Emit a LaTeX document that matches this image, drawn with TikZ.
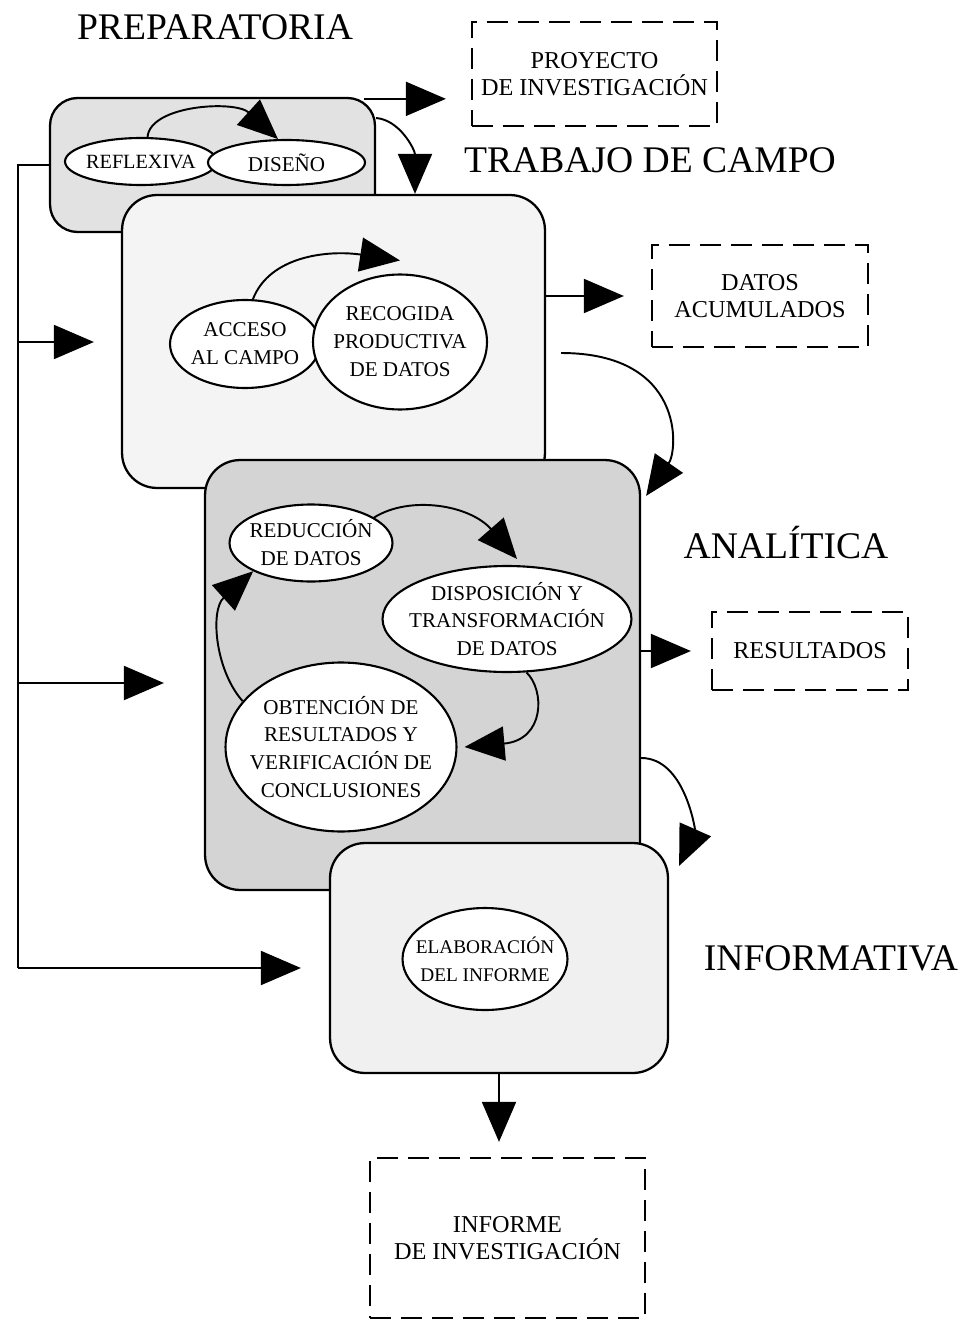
\documentclass[tikz,border=0pt]{standalone}
\usepackage{fontspec}
\setmainfont{Liberation Serif}
\usetikzlibrary{arrows.meta, shapes.geometric}
\definecolor{prepshade}{RGB}{226,226,226}
\definecolor{fieldshade}{RGB}{244,244,244}
\definecolor{analshade}{RGB}{212,212,212}
\definecolor{infoshade}{RGB}{240,240,240}

\begin{document}
\begin{tikzpicture}[
  x=0.02cm, y=-0.02cm,
  flowarr/.style={-{Triangle[length=0.8cm, width=0.68cm]}, line width=1.1pt},
  busline/.style={line width=1.5pt},
  phasebox/.style={draw, line width=1.3pt, rounded corners=0.7cm, inner sep=0pt},
  outbox/.style={draw, line width=1.3pt, dash pattern=on 0.42cm off 0.2cm, inner sep=0pt,
    align=center, font=\fontsize{13.8}{15.4}\selectfont},
  ell/.style={ellipse, draw, fill=white, line width=1.2pt, inner sep=0pt},
  elltxt/.style={align=center, inner sep=0pt, font=\fontsize{12}{15.9}\selectfont},
  phaselbl/.style={anchor=base, inner sep=0pt, font=\fontsize{21.4}{25}\selectfont}
]
\useasboundingbox (0,0) rectangle (966,1321);

\node[phaselbl] (lbl-prep)  at (215,40)  {PREPARATORIA};
\node[phaselbl] (lbl-campo) at (650,173) {TRABAJO DE CAMPO};
\node[phaselbl] (lbl-anal)  at (786,558) {ANALÍTICA};
\node[phaselbl] (lbl-info)  at (831,970) {INFORMATIVA};

\node[outbox, minimum width=4.9cm,  minimum height=2.08cm] (proy)  at (594.5,74)  {PROYECTO\\DE INVESTIGACIÓN};
\node[outbox, minimum width=4.32cm, minimum height=2.04cm] (datos) at (760,296)   {DATOS\\ACUMULADOS};
\node[outbox, minimum width=3.92cm, minimum height=1.56cm] (res)   at (810,651)   {RESULTADOS};
\node[outbox, minimum width=5.5cm,  minimum height=3.2cm]  (inf)   at (507.5,1238) {INFORME\\DE INVESTIGACIÓN};

% preparatoria
\node[phasebox, fill=prepshade, rounded corners=0.55cm, minimum width=6.5cm, minimum height=2.68cm] (prep) at (212.5,165) {};
\node[ell, minimum width=3.04cm, minimum height=0.94cm] (refl) at (141,161.5) {};
\node[elltxt, font=\fontsize{11.5}{15.9}\selectfont] (refl-t) at (refl) {REFLEXIVA};
\node[ell, minimum width=3.14cm, minimum height=0.9cm] (dis) at (286.5,162.5) {};
\node[elltxt] (dis-t) at (dis) {DISEÑO};
\draw[flowarr] (refl.75) .. controls (150,105) and (235,100) .. (dis.110);

% trabajo de campo
\node[phasebox, fill=fieldshade, minimum width=8.46cm, minimum height=5.86cm] (campo) at (333.5,341.5) {};
\node[ell, minimum width=3.0cm, minimum height=1.76cm] (acc) at (245,344) {};
\node[elltxt] (acc-t) at (acc) {ACCESO\\AL CAMPO};
\node[ell, minimum width=3.48cm, minimum height=2.7cm] (rec) at (400,342) {};
\node[elltxt] (rec-t) at (rec) {RECOGIDA\\PRODUCTIVA\\DE DATOS};
\draw[flowarr] (acc.80) .. controls (270,255) and (330,250) .. ([yshift=0.26cm]rec.north);

% analitica
\node[phasebox, fill=analshade, minimum width=8.7cm, minimum height=8.6cm] (anal) at (422.5,675) {};
\node[ell, minimum width=3.26cm, minimum height=1.54cm] (red) at (311,543) {};
\node[elltxt] (red-t) at (red) {REDUCCIÓN\\DE DATOS};
\node[ell, minimum width=4.98cm, minimum height=2.12cm] (disp) at (507,619) {};
\node[elltxt] (disp-t) at (disp) {DISPOSICIÓN Y\\TRANSFORMACIÓN\\DE DATOS};
\node[ell, minimum width=4.62cm, minimum height=3.38cm] (obt) at (341,747) {};
\node[elltxt] (obt-t) at (obt) {OBTENCIÓN DE\\RESULTADOS Y\\VERIFICACIÓN DE\\CONCLUSIONES};
\draw[flowarr] (red.22) .. controls (410,495) and (470,505) .. ([xshift=0.2cm,yshift=0.12cm]disp.north);
\draw[flowarr] (disp.-70) .. controls (545,690) and (545,740) .. ([xshift=0.14cm]obt.east);
\draw[flowarr] (obt.155) .. controls (215,670) and (210,610) .. (red.206);

% informativa
\node[phasebox, fill=infoshade, minimum width=6.76cm, minimum height=4.6cm] (info) at (499,958) {};
\node[ell, minimum width=3.3cm, minimum height=2.04cm] (elab) at (485,959) {};
\node[elltxt, font=\fontsize{11}{15.9}\selectfont] (elab-t) at (elab) {ELABORACIÓN\\DEL INFORME};

% between phases
\draw[flowarr] ([yshift=0.94cm]prep.east) .. controls (400,120) and (415,150) .. ([xshift=1.63cm]campo.north);
\draw[flowarr] ([xshift=0.3cm,yshift=-0.23cm]campo.east) .. controls (685,353) and (678,450) .. ([xshift=0.1cm,yshift=-0.74cm]anal.north east);
\draw[flowarr] ([yshift=-1.66cm]anal.east) .. controls (685,758) and (695,830) .. ([xshift=0.2cm,yshift=-0.48cm]info.north east);

% outputs
\coordinate (prep-out) at ([xshift=-0.24cm,yshift=-0.04cm]prep.north east);
\draw[flowarr, shorten >=0.5cm]  (prep-out) -- (prep-out -| proy.west);
\draw[flowarr, shorten >=0.54cm] (campo.east |- datos.west) -- (datos.west);
\draw[flowarr, shorten >=0.4cm]  (anal.east |- res.west) -- (res.west);
\draw[flowarr, shorten >=0.3cm]  (info.south) -- (info.south |- inf.north);

% feedback bus
\coordinate (bus-campo) at (18,342);
\coordinate (bus-anal)  at (18,683);
\coordinate (bus-end)   at (18,968);
\draw[busline] (prep.west) -| (bus-end);
\draw[flowarr, shorten >=0.54cm] (bus-campo) -- (bus-campo -| campo.west);
\draw[flowarr, shorten >=0.8cm]  (bus-anal) -- (bus-anal -| anal.west);
\draw[flowarr, shorten >=0.56cm] (bus-end) -- (bus-end -| info.west);
\end{tikzpicture}
\end{document}
